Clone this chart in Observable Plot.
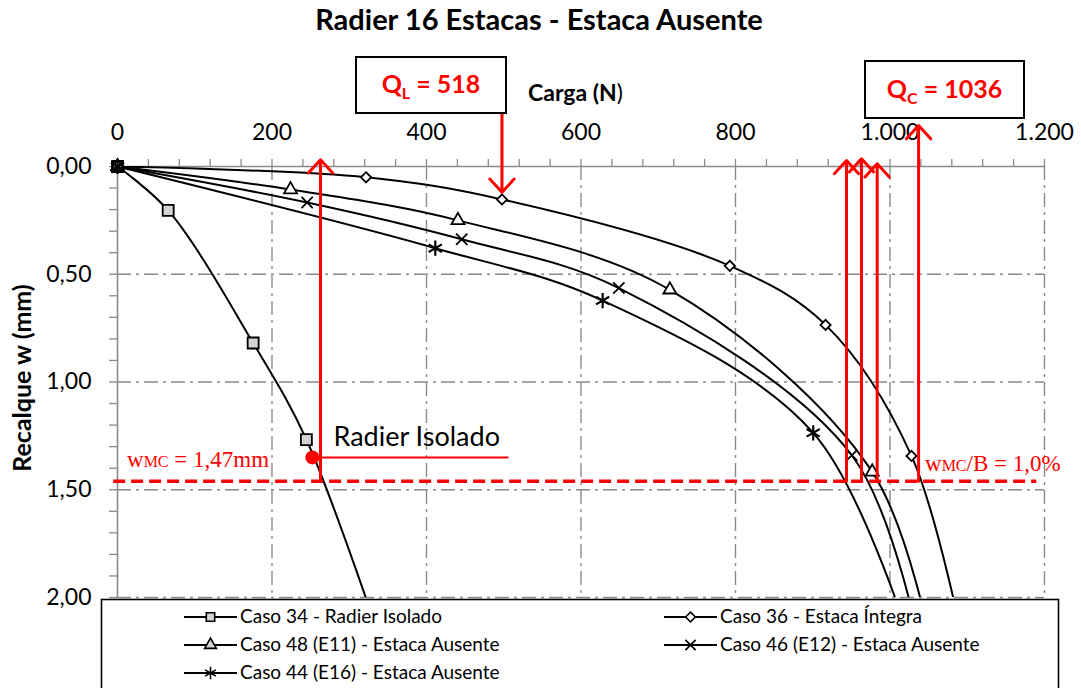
<!DOCTYPE html>
<html><head><meta charset="utf-8">
<script src="https://cdn.jsdelivr.net/npm/d3@7"></script>
<script src="https://cdn.jsdelivr.net/npm/@observablehq/plot@0.6"></script>
<style>
body{margin:0;background:#fff;}
#chart{position:relative;width:1081px;height:688px;overflow:hidden;}
</style></head><body><div id="chart"></div>
<script>
// ---------- data ----------
const title = "Radier 16 Estacas - Estaca Ausente";
const series = ["Caso 34 - Radier Isolado","Caso 36 - Estaca Íntegra","Caso 48 (E11) - Estaca Ausente","Caso 46 (E12) - Estaca Ausente","Caso 44 (E16) - Estaca Ausente"];
const caso34Carga = [0, 65.6, 175.6, 244.5, 350];
const caso34Recalque = [0, 0.204, 0.819, 1.267, 2.3];
const caso36Carga = [0, 321.7, 497.7, 792.6, 916.6, 1027.8, 1097];
const caso36Recalque = [0, 0.05, 0.153, 0.461, 0.735, 1.343, 2.25];
const caso48Carga = [0, 224, 440.7, 715, 977, 1055];
const caso48Recalque = [0, 0.107, 0.25, 0.572, 1.417, 2.25];
const caso46Carga = [0, 245.5, 445.6, 649, 950.6, 1040];
const caso46Recalque = [0, 0.167, 0.338, 0.564, 1.34, 2.25];
const caso44Carga = [0, 411.4, 628, 900.6, 1030];
const caso44Recalque = [0, 0.379, 0.622, 1.236, 2.25];

const xTicks = [0, 200, 400, 600, 800, 1000, 1200];
const xTickLabels = ["0", "200", "400", "600", "800", "1.000", "1.200"];
const yTicks = [0, 0.5, 1, 1.5, 2];
const yTickLabels = ["0,00", "0,50", "1,00", "1,50", "2,00"];

// annotations (values in chart units)
const wMC = 1.46;                    // drawn level of w_MC (labelled 1,47 mm)
const upArrowCarga = [262.8, 943.7, 963.1, 983.4, 1037];
const upArrowTop = [-0.031, -0.028, -0.036, -0.0125, -0.19];
const qlArrow = {carga: 497.7, from: -0.25, to: 0.12};
const radierPoint = {carga: 252.3, recalque: 1.35};
const radierLineEnd = 506.8;
const QL = 518, QC = 1036;

// ---------- build ----------
const cargas = [caso34Carga, caso36Carga, caso48Carga, caso46Carga, caso44Carga];
const recalques = [caso34Recalque, caso36Recalque, caso48Recalque, caso46Recalque, caso44Recalque];
const rows = series.flatMap((s, i) => cargas[i].map((c, j) => ({serie: s, carga: c, recalque: recalques[i][j]})));
const symbols = ["square", "diamond2", "triangle", "times", "asterisk"];
const fills = ["#d4d4d4", "white", "white", "none", "none"];
const sizes = [6.2, 4.6, 4.8, 5.2, 7.2];

const W = 1081, H = 688;
const grey = "#8a8a8a";
const red = "#ff0000";

const dotMarks = series.map((s, i) => Plot.dot(rows, {
  filter: d => d.serie === s && d.recalque <= 2,
  x: "carga", y: "recalque", symbol: () => symbols[i], r: sizes[i],
  fill: fills[i], stroke: "black", strokeWidth: i === 4 ? 2.2 : 1.8
}));

const plot = Plot.plot({
  width: W, height: H,
  marginLeft: 117, marginRight: 37, marginTop: 166, marginBottom: 91,
  style: {fontFamily: "Lato, sans-serif", background: "white", overflow: "visible"},
  x: {domain: [0, 1200]},
  y: {domain: [0, 2], reverse: true},
  symbol: {type: "identity"},
  marks: [
    Plot.gridX(xTicks.slice(1), {stroke: grey, strokeOpacity: 1, strokeWidth: 1.4, strokeDasharray: "14,5,3,5"}),
    Plot.gridY(yTicks.slice(1), {stroke: grey, strokeOpacity: 1, strokeWidth: 1.4, strokeDasharray: "14,5,3,5"}),
    Plot.axisX({anchor: "top", ticks: d3.range(0, 1201, 40), tickSize: 8, tickFormat: () => "", stroke: grey, strokeWidth: 1.3, label: null}),
    Plot.axisX({anchor: "top", ticks: xTicks, tickSize: 0, tickPadding: 27, tickFormat: d => xTickLabels[xTicks.indexOf(d)], fontSize: 23, fill: "black", label: null}),
    Plot.axisY({anchor: "left", ticks: d3.range(0, 20.5, 1).map(v => v / 10), tickSize: 8, tickFormat: () => "", stroke: grey, strokeWidth: 1.3, label: null}),
    Plot.axisY({anchor: "left", ticks: yTicks, tickSize: 0, tickPadding: 26, tickFormat: d => yTickLabels[yTicks.indexOf(d)], fontSize: 23, fill: "black", label: null}),
    Plot.ruleX([0], {stroke: grey, strokeWidth: 1.6}),
    Plot.ruleY([0], {stroke: grey, strokeWidth: 1.6}),
    Plot.line(rows, {x: "carga", y: "recalque", z: "serie", curve: "catmull-rom", stroke: "black", strokeWidth: 2, clip: true}),
    ...dotMarks,
    // red annotations
    Plot.ruleY([wMC], {x1: -5, x2: 1190, stroke: red, strokeWidth: 3.5, strokeDasharray: "12,6"}),
    Plot.arrow(upArrowCarga, {x1: d => d, x2: d => d, y1: wMC, y2: (d, i) => upArrowTop[i], stroke: red, strokeWidth: 3, headLength: 9, headAngle: 85}),
    Plot.arrow([qlArrow], {x1: "carga", x2: "carga", y1: "from", y2: "to", stroke: red, strokeWidth: 3, headLength: 9, headAngle: 85}),
    Plot.ruleY([radierPoint.recalque], {x1: upArrowCarga[0], x2: radierLineEnd, stroke: red, strokeWidth: 2}),
    Plot.dot([radierPoint], {x: "carga", y: "recalque", r: 7, fill: red}),
    Plot.text(["Radier Isolado"], {x: 279.5, y: 1.256, text: d => d, textAnchor: "start", fontSize: 27, fill: "black"})
  ]
});

document.getElementById("chart").appendChild(plot);
const svg = d3.select(plot);

// title
svg.append("text").attr("x", 539).attr("y", 30).attr("text-anchor", "middle")
  .attr("font-size", 29).attr("font-weight", 700).attr("fill", "black").text(title);

// x axis title
const cg = svg.append("text").attr("x", 528).attr("y", 101).attr("text-anchor", "start").attr("font-size", 23).attr("fill", "black");
cg.append("tspan").attr("font-weight", 700).text("Carga (N");
cg.append("tspan").text(")");

// y axis title
svg.append("text").attr("transform", "translate(31,378) rotate(-90)").attr("text-anchor", "middle")
  .attr("font-size", 25).attr("font-weight", 700).attr("fill", "black").text("Recalque w (mm)");

// Q boxes
function qBox(x, y, w, h, sub, val) {
  svg.append("rect").attr("x", x).attr("y", y).attr("width", w).attr("height", h)
    .attr("fill", "white").attr("stroke", "black").attr("stroke-width", 2);
  const t = svg.append("text").attr("x", x + w / 2).attr("y", y + h / 2 + 8).attr("text-anchor", "middle")
    .attr("font-size", 25).attr("font-weight", 700).attr("fill", red);
  t.append("tspan").text("Q");
  t.append("tspan").attr("font-size", 16).attr("dy", 6).text(sub);
  t.append("tspan").attr("dy", -6).text(" = " + val);
}
qBox(356, 57, 150, 56, "L", QL);
qBox(865, 61, 159, 57, "C", QC);

// w_MC labels
function wLabel(x, y, rest) {
  const t = svg.append("text").attr("x", x).attr("y", y).attr("text-anchor", "start")
    .attr("font-family", "'Liberation Serif', 'Times New Roman', serif")
    .attr("font-size", 23).attr("fill", red);
  t.append("tspan").text("w");
  t.append("tspan").attr("font-size", 16).text("MC");
  t.append("tspan").text(rest);
}
wLabel(127, 467, " = 1,47mm");
wLabel(925, 471, "/B = 1,0%");

// legend
const lg = svg.append("g");
lg.append("rect").attr("x", 101.5).attr("y", 599.5).attr("width", 957).attr("height", 110)
  .attr("fill", "white").attr("stroke", "black").attr("stroke-width", 1.6);
const d3sym = {square: d3.symbolSquare, diamond2: d3.symbolDiamond2, triangle: d3.symbolTriangle, times: d3.symbolTimes, asterisk: d3.symbolAsterisk};
const legendFills = ["#d4d4d4", "white", "#d4d4d4", "none", "none"];
const legendSizes = [70, 60, 60, 70, 110];
const pos = [[184, 617], [664, 617], [184, 645], [664, 645], [184, 673]];
series.forEach((s, i) => {
  const [x, y] = pos[i];
  lg.append("line").attr("x1", x).attr("x2", x + 53).attr("y1", y).attr("y2", y).attr("stroke", "black").attr("stroke-width", 2);
  lg.append("path").attr("d", d3.symbol(d3sym[symbols[i]], legendSizes[i])()).attr("transform", `translate(${x + 26.5},${y})`)
    .attr("fill", legendFills[i]).attr("stroke", "black").attr("stroke-width", 1.6);
  lg.append("text").attr("x", x + 56).attr("y", y + 6).attr("text-anchor", "start").attr("font-size", 19).attr("fill", "black").text(s);
});
</script></body></html>
